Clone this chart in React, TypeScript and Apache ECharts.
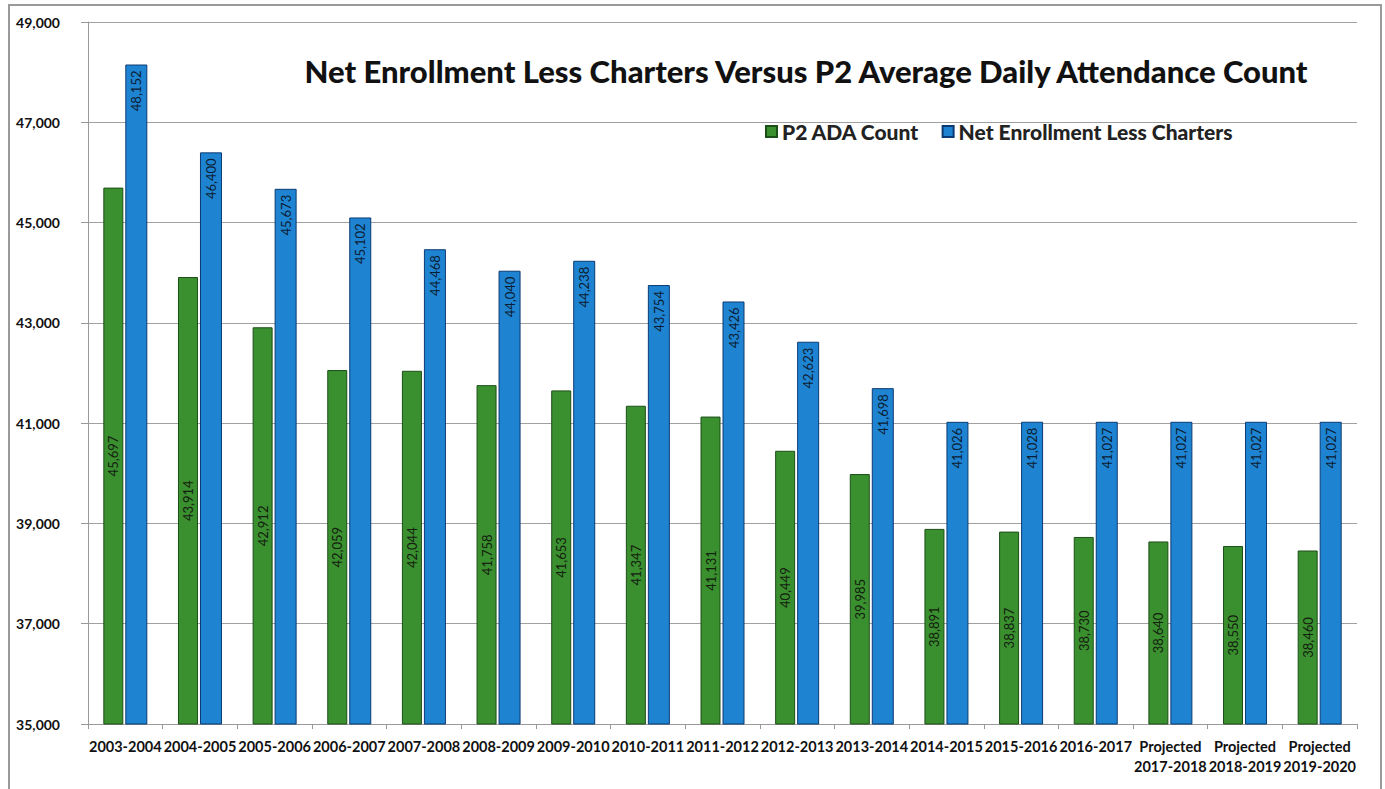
import React, { useEffect, useRef } from "react";
import * as echarts from "echarts";

const categories = [
  "2003-2004", "2004-2005", "2005-2006", "2006-2007", "2007-2008", "2008-2009",
  "2009-2010", "2010-2011", "2011-2012", "2012-2013", "2013-2014", "2014-2015",
  "2015-2016", "2016-2017", "Projected\n2017-2018", "Projected\n2018-2019", "Projected\n2019-2020",
];
const p2Ada = [45697, 43914, 42912, 42059, 42044, 41758, 41653, 41347, 41131, 40449, 39985, 38891, 38837, 38730, 38640, 38550, 38460];
const netEnrollment = [48152, 46400, 45673, 45102, 44468, 44040, 44238, 43754, 43426, 42623, 41698, 41026, 41028, 41027, 41027, 41027, 41027];
const seriesNames = ["P2 ADA Count", "Net Enrollment Less Charters"];
const titleText = "Net Enrollment Less Charters Versus P2 Average Daily Attendance Count";

const FONT = "Lato, 'Open Sans', sans-serif";

export default function App() {
  const ref = useRef<HTMLDivElement>(null);
  useEffect(() => {
    document.body.style.margin = "0";
    const chart = echarts.init(ref.current!, null, { renderer: "svg" });
    const fmt = (v: number) => v.toLocaleString("en-US");
    chart.setOption({
      animation: false,
      backgroundColor: "#ffffff",
      textStyle: { fontFamily: FONT },
      title: {
        text: titleText,
        left: 801,
        top: 50,
        textAlign: "center",
        textStyle: { fontFamily: FONT, fontSize: 31, fontWeight: 900, color: "#111" },
      },
      legend: {
        data: seriesNames,
        left: 760,
        top: 116,
        itemWidth: 11,
        itemHeight: 11,
        itemGap: 22,
        icon: "rect",
        textStyle: { fontFamily: FONT, fontSize: 21, fontWeight: 900, color: "#222" },
      },
      graphic: [
        {
          type: "rect",
          shape: { x: 9, y: 5, width: 1372, height: 790 },
          style: { fill: "none", stroke: "#9a9a9a", lineWidth: 2 },
          silent: true,
        },
      ],
      grid: { left: 88, right: 28, top: 22, bottom: 65 },
      xAxis: {
        type: "category",
        data: categories,
        axisLine: { lineStyle: { color: "#999" } },
        axisTick: { show: true, length: 5, lineStyle: { color: "#999" } },
        axisLabel: {
          interval: 0,
          color: "#111",
          fontFamily: FONT,
          fontSize: 14.5,
          fontWeight: "bold",
          margin: 12,
          lineHeight: 20,
        },
      },
      yAxis: {
        type: "value",
        min: 35000,
        max: 49000,
        interval: 2000,
        axisLine: { show: true, lineStyle: { color: "#999" } },
        axisTick: { show: true, length: 7, lineStyle: { color: "#999" } },
        splitLine: { lineStyle: { color: "#a0a0a0", width: 1 } },
        axisLabel: {
          color: "#111",
          fontFamily: FONT,
          fontSize: 14,
          fontWeight: "bold",
          margin: 28,
          formatter: (v: number) => fmt(v),
        },
      },
      series: [
        {
          name: seriesNames[0],
          type: "bar",
          data: p2Ada,
          barWidth: 20,
          barGap: "10%",
          itemStyle: { color: "#3a8f2f", borderColor: "#1c4f18", borderWidth: 1 },
          label: {
            show: true,
            position: "inside",
            rotate: 90,
            align: "center",
            verticalAlign: "middle",
            color: "#14210f",
            fontFamily: FONT,
            fontSize: 13,
            formatter: (p: any) => fmt(p.value),
          },
        },
        {
          name: seriesNames[1],
          type: "bar",
          data: netEnrollment,
          barWidth: 22,
          itemStyle: { color: "#1e84d2", borderColor: "#0b3a72", borderWidth: 1 },
          label: {
            show: true,
            position: "insideTop",
            rotate: 90,
            align: "right",
            verticalAlign: "middle",
            distance: 6,
            color: "#0c1d33",
            fontFamily: FONT,
            fontSize: 13,
            formatter: (p: any) => fmt(p.value),
          },
        },
      ],
    });
    return () => chart.dispose();
  }, []);
  return <div ref={ref} style={{ width: 1385, height: 789 }} />;
}
